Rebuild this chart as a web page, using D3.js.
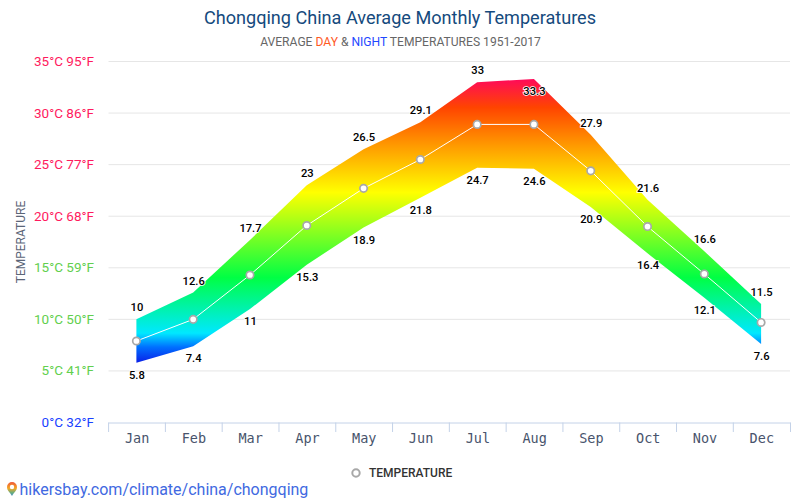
<!DOCTYPE html>
<html><head><meta charset="utf-8">
<script src="https://cdn.jsdelivr.net/npm/d3@7/dist/d3.min.js"></script>
<style>html,body{margin:0;padding:0;background:#fff;overflow:hidden}svg{display:block}text{font-family:Roboto,sans-serif}</style>
</head><body>
<script>
const months=["Jan","Feb","Mar","Apr","May","Jun","Jul","Aug","Sep","Oct","Nov","Dec"];
const dayTemps=[10,12.6,17.7,23,26.5,29.1,33,33.3,27.9,21.6,16.6,11.5];
const nightTemps=[5.8,7.4,11,15.3,18.9,21.8,24.7,24.6,20.9,16.4,12.1,7.6];
const avgTemps=[7.9,10,14.3,19.1,22.7,25.5,28.9,28.9,24.4,19,14.4,9.7];
const yTicks=[0,5,10,15,20,25,30,35];
const yTickLabels=["0°C 32°F","5°C 41°F","10°C 50°F","15°C 59°F","20°C 68°F","25°C 77°F","30°C 86°F","35°C 95°F"];
const yTickColors=["#1a3fff","#62cf4e","#62cf4e","#62cf4e","#ff1a5e","#ff1a5e","#ff1a5e","#ff1a5e"];
const gradStops=[[0,"#ff0a5a"],[0.10,"#ff4400"],[0.233,"#ff9900"],[0.40,"#ffff00"],[0.70,"#00ff44"],[0.896,"#00e8ff"],[0.945,"#0070ff"],[1,"#0a20e8"]];

const svg=d3.select("body").append("svg").attr("width",800).attr("height",500);
const x=d3.scaleBand().domain(months).range([108,789.5]);
const y=d3.scaleLinear().domain([0,35]).range([422.5,61.5]);
const cx=m=>x(m)+x.bandwidth()/2;

svg.append("text").attr("x",400).attr("y",24).attr("text-anchor","middle").attr("font-size",18.1).attr("fill","#154a7d").text("Chongqing China Average Monthly Temperatures");
const sub=svg.append("text").attr("x",400.5).attr("y",46).attr("text-anchor","middle").attr("font-size",12.1).attr("fill","#666");
sub.append("tspan").text("AVERAGE ");
sub.append("tspan").attr("fill","#ff5a1f").text("DAY");
sub.append("tspan").text(" & ");
sub.append("tspan").attr("fill","#1f49ff").text("NIGHT");
sub.append("tspan").text(" TEMPERATURES 1951-2017");

svg.append("g").selectAll("line").data(yTicks.slice(1)).join("line")
 .attr("x1",108.5).attr("x2",790).attr("y1",d=>y(d)).attr("y2",d=>y(d)).attr("stroke","#e6e6e6");
svg.append("g").selectAll("text").data(yTicks).join("text")
 .attr("x",94).attr("y",d=>y(d)+4.5).attr("text-anchor","end").attr("font-size",13.5)
 .attr("fill",(d,i)=>yTickColors[i]).text((d,i)=>yTickLabels[i]);
svg.append("text").attr("transform","translate(25,242) rotate(-90)").attr("text-anchor","middle").attr("font-size",12).attr("fill","#5b6678").text("TEMPERATURE");

const gr=svg.append("defs").append("linearGradient").attr("id","band").attr("x1",0).attr("x2",0).attr("y1",0).attr("y2",1);
gr.selectAll("stop").data(gradStops).join("stop").attr("offset",d=>d[0]).attr("stop-color",d=>d[1]);
const area=d3.area().x(d=>cx(d)).y0(d=>y(nightTemps[months.indexOf(d)])).y1(d=>y(dayTemps[months.indexOf(d)]));
svg.append("path").datum(months).attr("d",area).attr("fill","url(#band)");
const line=d3.line().x(d=>cx(d)).y(d=>y(avgTemps[months.indexOf(d)]));
svg.append("path").datum(months).attr("d",line).attr("fill","none").attr("stroke","#fff").attr("stroke-width",1);
svg.append("g").selectAll("circle").data(months).join("circle")
 .attr("cx",cx).attr("cy",(d,i)=>y(avgTemps[i])).attr("r",3.7).attr("fill","#fff").attr("stroke","#a8a8a8").attr("stroke-width",1.7);

const xAxis=d3.axisBottom(x).tickSize(0).tickPadding(0);
const gx=svg.append("g").attr("transform","translate(0,422.5)").call(xAxis);
gx.select(".domain").attr("stroke","#c4d2e8").attr("d","M108.5,0.5H790.5");
gx.selectAll("text").attr("x",0.7).attr("y",16).attr("dy","0.35em").attr("font-size",13.5).style("font-family","'DejaVu Sans Mono',monospace").attr("fill","#48546c");
svg.append("g").selectAll("line").data(months.concat("end")).join("line")
 .attr("x1",d=>d==="end"?790.5:x(d)+0.6).attr("x2",d=>d==="end"?790.5:x(d)+0.6).attr("y1",422.5).attr("y2",432).attr("stroke","#c4d2e8");

const dayMax=d3.max(dayTemps);
function labels(vals,dyFn){
 svg.append("g").selectAll("text").data(months).join("text")
  .attr("x",d=>cx(d)+0.5).attr("y",(d,i)=>y(vals[i])+dyFn(vals[i])).attr("text-anchor","middle").attr("font-size",11.2).attr("font-weight",500)
  .attr("fill","#000").attr("stroke","#fff").attr("stroke-width",1.6).attr("paint-order","stroke").text((d,i)=>vals[i]);
}
labels(dayTemps,v=>v===dayMax?16:-8);
labels(nightTemps,()=>16);

svg.append("circle").attr("cx",356).attr("cy",473).attr("r",3.7).attr("fill","#fff").attr("stroke","#a8a8a8").attr("stroke-width",2);
svg.append("text").attr("x",369).attr("y",477).attr("font-size",12).attr("font-weight",500).attr("fill","#333").text("TEMPERATURE");

const defs=svg.select("defs");
const pg=defs.append("linearGradient").attr("id","pin").attr("x1",0).attr("x2",0).attr("y1",0).attr("y2",1);
pg.selectAll("stop").data([[0,"#ee5a3a"],[0.45,"#f5a623"],[0.75,"#6fae7a"],[1,"#3f8fc4"]]).join("stop").attr("offset",d=>d[0]).attr("stop-color",d=>d[1]);
const pin=svg.append("g").attr("transform","translate(12,489)");
pin.append("path").attr("d","M0,7 C-2,3.5 -5,1.5 -5,-2 A5,5 0 1 1 5,-2 C5,1.5 2,3.5 0,7Z").attr("fill","url(#pin)");
pin.append("circle").attr("cy",-2).attr("r",2.2).attr("fill","#fff");
svg.append("text").attr("x",19.5).attr("y",495).attr("font-size",16).attr("fill","#4169e1").text("hikersbay.com/climate/china/chongqing");
</script>
</body></html>
